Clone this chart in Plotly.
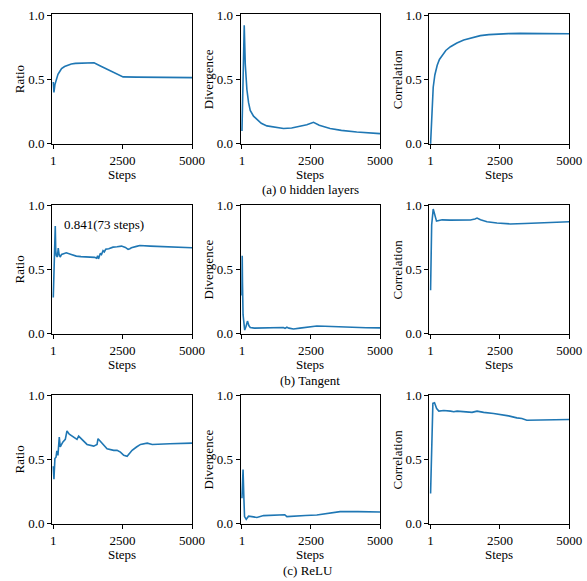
import plotly.graph_objects as go

# ---------------- data ----------------
x_ticks = [1, 2500, 5000]
y_ticks = [0.0, 0.5, 1.0]
x_tick_labels = ["1", "2500", "5000"]
y_tick_labels = ["0.0", "0.5", "1.0"]
y_titles = ["Ratio", "Divergence", "Correlation"]
x_title = "Steps"
captions = ["(a) 0 hidden layers", "(b) Tangent", "(c) ReLU"]

# (a) 0 hidden layers
a_ratio_steps = [1, 25, 60, 108, 170, 228, 300, 408, 520, 650, 800, 950, 1200, 1470, 1700, 1915, 2150, 2350, 2517, 3000, 4000, 5000]
a_ratio_vals = [0.48, 0.40, 0.46, 0.50, 0.54, 0.56, 0.585, 0.60, 0.612, 0.62, 0.625, 0.627, 0.629, 0.63, 0.605, 0.583, 0.56, 0.54, 0.52, 0.518, 0.515, 0.514]
a_div_steps = [1, 40, 83, 120, 180, 240, 300, 420, 542, 700, 903, 1200, 1505, 1800, 2107, 2350, 2590, 2800, 3192, 3600, 4157, 4600, 5000]
a_div_vals = [0.10, 0.60, 0.92, 0.62, 0.42, 0.32, 0.26, 0.215, 0.19, 0.16, 0.14, 0.128, 0.12, 0.123, 0.134, 0.148, 0.168, 0.145, 0.12, 0.105, 0.093, 0.086, 0.08]
a_corr_steps = [1, 30, 60, 96, 155, 240, 320, 420, 550, 718, 950, 1196, 1500, 1794, 2100, 2392, 2800, 3230, 4000, 5000]
a_corr_vals = [0.0, 0.12, 0.30, 0.44, 0.535, 0.61, 0.655, 0.69, 0.725, 0.754, 0.783, 0.806, 0.825, 0.84, 0.848, 0.853, 0.856, 0.858, 0.857, 0.855]

# (b) Tangent
b_ratio_steps = [1, 30, 60, 73, 90, 110, 150, 180, 210, 250, 300, 470, 650, 830, 1000, 1193, 1350, 1493, 1560, 1600, 1630, 1660, 1700, 1740, 1794, 1840, 1890, 2000, 2155, 2300, 2458, 2600, 2697, 2760, 2817, 3000, 3120, 3500, 4000, 4500, 5000]
b_ratio_vals = [0.284, 0.55, 0.70, 0.841, 0.65, 0.61, 0.60, 0.67, 0.62, 0.60, 0.62, 0.633, 0.62, 0.607, 0.603, 0.60, 0.598, 0.597, 0.59, 0.61, 0.585, 0.605, 0.63, 0.62, 0.65, 0.64, 0.66, 0.665, 0.677, 0.68, 0.685, 0.675, 0.66, 0.665, 0.672, 0.683, 0.69, 0.685, 0.68, 0.676, 0.672]
b_div_steps = [1, 10, 20, 40, 70, 100, 150, 200, 250, 300, 450, 700, 1000, 1300, 1500, 1560, 1627, 1700, 1867, 2100, 2400, 2711, 3000, 3500, 4000, 4500, 5000]
b_div_vals = [0.30, 0.61, 0.40, 0.15, 0.07, 0.03, 0.06, 0.10, 0.065, 0.05, 0.045, 0.045, 0.047, 0.047, 0.05, 0.043, 0.052, 0.045, 0.039, 0.045, 0.055, 0.062, 0.06, 0.055, 0.05, 0.048, 0.047]
b_corr_steps = [1, 40, 96, 150, 215, 300, 418, 700, 1000, 1435, 1600, 1675, 1800, 2034, 2392, 2600, 2871, 3400, 3947, 4500, 5000]
b_corr_vals = [0.34, 0.85, 0.974, 0.93, 0.88, 0.885, 0.89, 0.888, 0.889, 0.889, 0.897, 0.904, 0.89, 0.875, 0.865, 0.86, 0.858, 0.861, 0.865, 0.87, 0.875]

# (c) ReLU
c_ratio_steps = [1, 25, 60, 100, 130, 169, 217, 253, 300, 350, 434, 494, 578, 735, 855, 915, 1036, 1217, 1458, 1578, 1614, 1698, 1939, 2180, 2300, 2421, 2541, 2662, 2842, 3000, 3144, 3385, 3566, 4200, 5000]
c_ratio_vals = [0.45, 0.349, 0.51, 0.52, 0.57, 0.535, 0.677, 0.60, 0.62, 0.64, 0.66, 0.725, 0.70, 0.677, 0.66, 0.685, 0.656, 0.62, 0.607, 0.62, 0.665, 0.643, 0.587, 0.574, 0.575, 0.56, 0.535, 0.527, 0.574, 0.60, 0.62, 0.63, 0.62, 0.625, 0.63]
c_div_steps = [1, 40, 70, 94, 155, 240, 420, 542, 783, 1143, 1385, 1550, 1627, 1800, 1988, 2300, 2711, 3193, 3554, 4200, 5000]
c_div_vals = [0.20, 0.424, 0.20, 0.057, 0.036, 0.06, 0.055, 0.05, 0.065, 0.07, 0.075, 0.072, 0.057, 0.058, 0.062, 0.066, 0.07, 0.083, 0.096, 0.096, 0.093]
c_corr_steps = [1, 40, 84, 143, 220, 299, 478, 718, 837, 957, 1316, 1495, 1675, 1914, 2273, 2512, 2811, 3110, 3290, 3469, 4187, 5000]
c_corr_vals = [0.238, 0.70, 0.94, 0.945, 0.90, 0.88, 0.885, 0.88, 0.875, 0.88, 0.875, 0.87, 0.88, 0.87, 0.862, 0.855, 0.843, 0.827, 0.822, 0.809, 0.81, 0.815]

annotation_text = "0.841(73 steps)"

series = [
    [(a_ratio_steps, a_ratio_vals), (a_div_steps, a_div_vals), (a_corr_steps, a_corr_vals)],
    [(b_ratio_steps, b_ratio_vals), (b_div_steps, b_div_vals), (b_corr_steps, b_corr_vals)],
    [(c_ratio_steps, c_ratio_vals), (c_div_steps, c_div_vals), (c_corr_steps, c_corr_vals)],
]

# ---------------- layout geometry ----------------
W, H = 587, 581
col_px = [(52, 192), (240.7, 380), (429.3, 569.3)]
row_px = [(14, 144.3), (204.7, 334.3), (394.7, 524.3)]
ytitle_x_px = [19, 208, 397]
xtitle_dy_px = 30.5        # distance below plot bottom to "Steps" centre
caption_px = [(310, 189.5), (310, 380.5), (308, 570)]

FONT = "'Liberation Serif', 'Times New Roman', serif"
LINE_COLOR = "#1f77b4"
TXT = dict(family=FONT, size=13, color="black")

fig = go.Figure()
layout = dict(
    width=W, height=H,
    margin=dict(l=0, r=0, t=0, b=0, autoexpand=False),
    paper_bgcolor="white", plot_bgcolor="white",
    showlegend=False,
    font=TXT,
)

annotations = []
idx = 0
for r in range(3):
    for c in range(3):
        idx += 1
        xa = "xaxis" if idx == 1 else f"xaxis{idx}"
        ya = "yaxis" if idx == 1 else f"yaxis{idx}"
        xs, ys = series[r][c]
        fig.add_trace(go.Scatter(
            x=xs, y=ys, mode="lines",
            line=dict(color=LINE_COLOR, width=1.6),
            xaxis=f"x{idx}" if idx > 1 else "x",
            yaxis=f"y{idx}" if idx > 1 else "y",
            hoverinfo="skip",
        ))
        x0, x1 = col_px[c]
        y0, y1 = row_px[r]
        layout[xa] = dict(
            domain=[x0 / W, x1 / W],
            anchor=f"y{idx}" if idx > 1 else "y",
            range=[-45, 5000],
            tickmode="array", tickvals=x_ticks, ticktext=x_tick_labels,
            ticks="outside", ticklen=4, tickwidth=1, tickcolor="black",
            showline=True, linecolor="black", linewidth=1, mirror=True,
            showgrid=False, zeroline=False, automargin=False,
            tickfont=TXT,
        )
        layout[ya] = dict(
            domain=[1 - y1 / H, 1 - y0 / H],
            anchor=f"x{idx}" if idx > 1 else "x",
            range=[-0.003, 1.008],
            tickmode="array", tickvals=y_ticks, ticktext=y_tick_labels,
            ticks="outside", ticklen=4, tickwidth=1, tickcolor="black",
            showline=True, linecolor="black", linewidth=1, mirror=True,
            showgrid=False, zeroline=False, automargin=False,
            tickfont=TXT,
        )
        # axis titles as annotations
        annotations.append(dict(
            x=(x0 + x1) / 2 / W, y=1 - (y1 + xtitle_dy_px) / H,
            xref="paper", yref="paper", text=x_title, showarrow=False,
            xanchor="center", yanchor="middle", font=TXT,
        ))
        annotations.append(dict(
            x=ytitle_x_px[c] / W, y=1 - (y0 + y1) / 2 / H,
            xref="paper", yref="paper", text=y_titles[c], showarrow=False,
            textangle=-90, xanchor="center", yanchor="middle", font=TXT,
        ))

for (cx, cy), txt in zip(caption_px, captions):
    annotations.append(dict(
        x=cx / W, y=1 - cy / H, xref="paper", yref="paper",
        text=txt, showarrow=False, xanchor="center", yanchor="middle",
        font=TXT,
    ))
annotations.append(dict(
    x=325, y=0.853, xref="x4", yref="y4",
    text=annotation_text, showarrow=False, xanchor="left", yanchor="middle",
    font=TXT,
))
layout["annotations"] = annotations

fig.update_layout(**layout)
fig.write_html(
    "out.html",
    config={"displayModeBar": False, "staticPlot": True},
    post_script="document.body.style.margin='0';document.body.style.overflow='hidden';",
)
